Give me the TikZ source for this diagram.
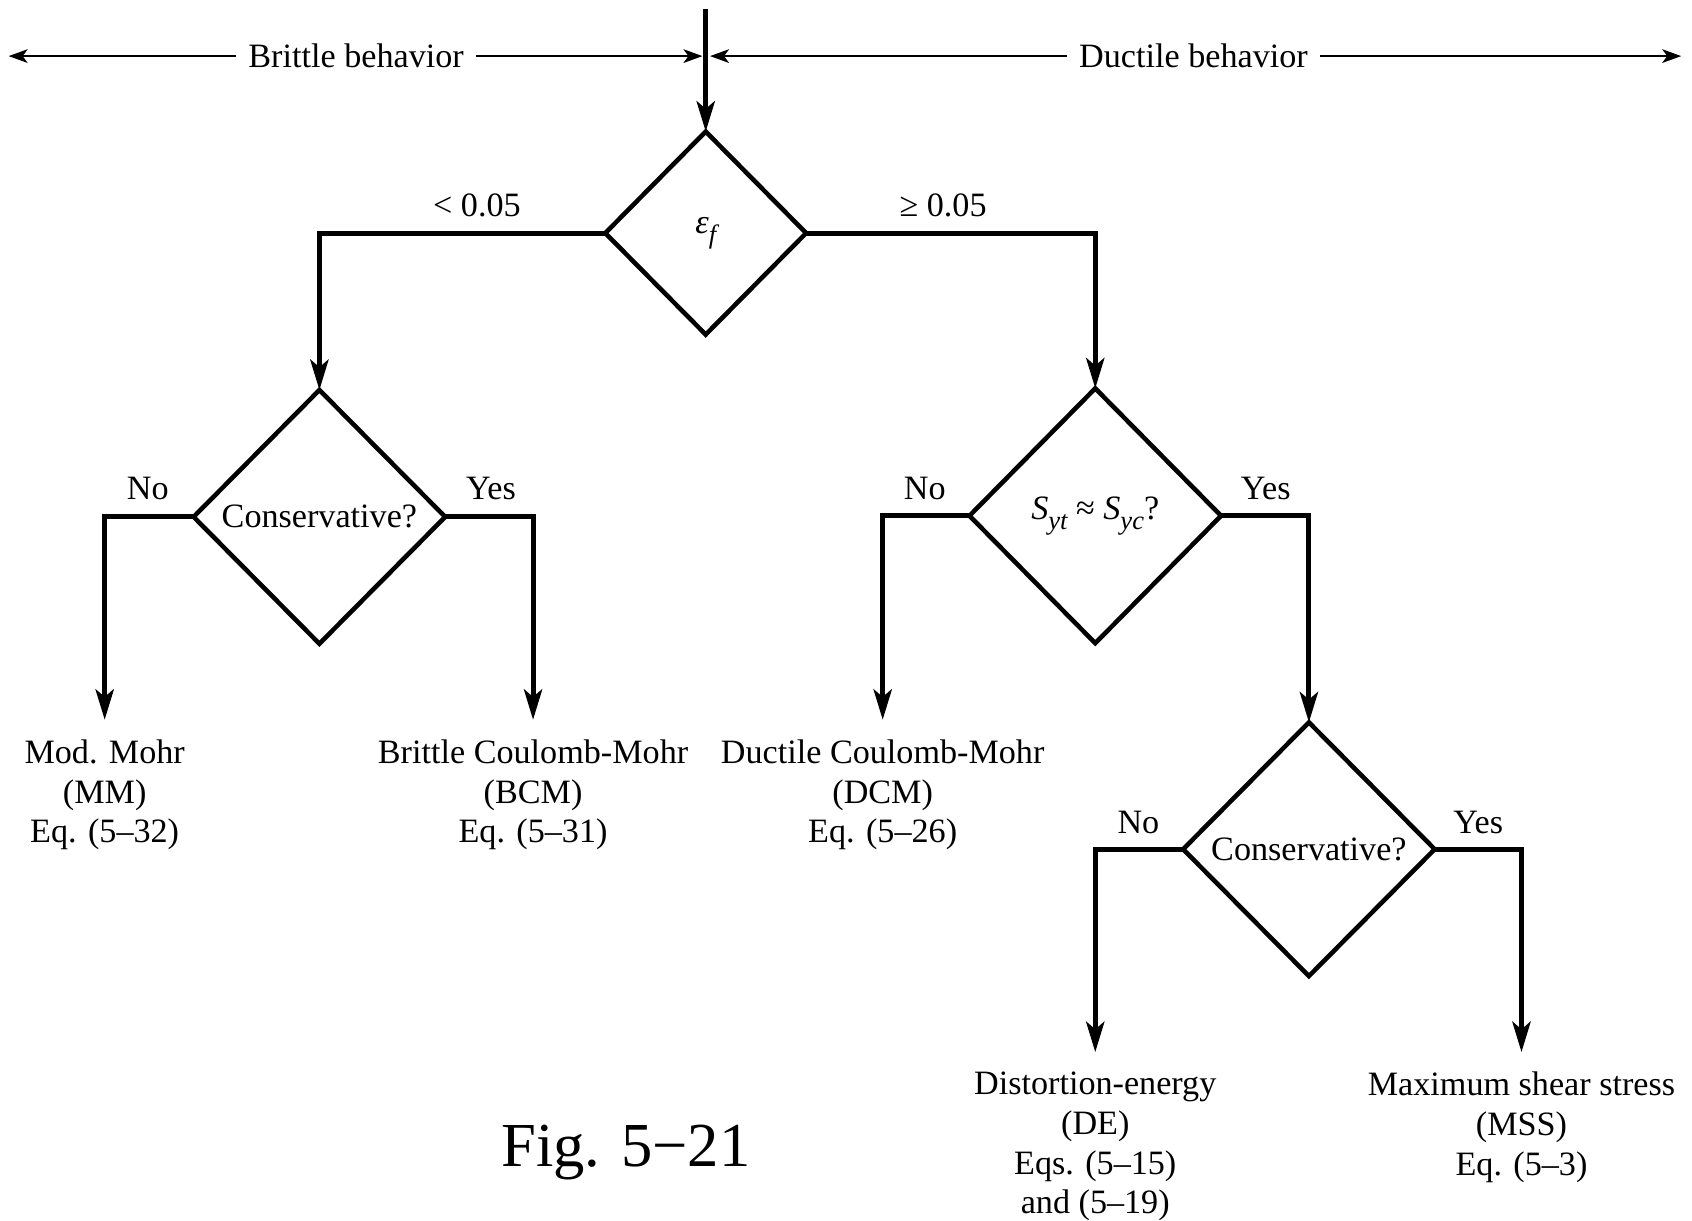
\documentclass[tikz,border=0pt]{standalone}
\usepackage{fontspec}
\setmainfont{Liberation Serif}
\usetikzlibrary{shapes.geometric,arrows.meta}

% italic subscript for the strain and strength symbols
\newcommand\itsub[1]{\raisebox{-2.6pt}{\fontsize{7}{7}\selectfont\itshape #1}}

\begin{document}
\begin{tikzpicture}[x=0.01cm,y=-0.01cm,
  every node/.style={font=\fontsize{9}{10.5}\selectfont, text=black},
  decision/.style={draw, diamond, line width=1.2pt, inner sep=0pt, outer sep=0pt},
  flow/.style={line width=1.3pt, -{Stealth[length=8pt,width=4.8pt,inset=2pt]}},
  thinarrow/.style={line width=0.5pt, -{Stealth[length=5pt,width=3.6pt,inset=1.3pt]}},
  leaf/.style={align=center, anchor=north, inner xsep=0pt, inner ysep=5pt},
  spanlabel/.style={inner xsep=3pt, inner ysep=0pt},
  branch/.style={inner sep=0pt}
]
\path[use as bounding box] (0,0) rectangle (1568,1131);

% header: brittle / ductile ranges
\coordinate (entry) at (654,8);
\coordinate (hleft) at (8,52);
\coordinate (hmidl) at (651,52);
\coordinate (hmidr) at (658,52);
\coordinate (hright) at (1558,52);
\node[spanlabel] (brittle) at (330,52) {Brittle behavior};
\node[spanlabel] (ductile) at (1106,52) {Ductile behavior};
\draw[thinarrow] (brittle.west) -- (hleft);
\draw[thinarrow] (brittle.east) -- (hmidl);
\draw[thinarrow] (ductile.west) -- (hmidr);
\draw[thinarrow] (ductile.east) -- (hright);

% decision diamonds
\node[decision, minimum width=1.86cm, minimum height=1.88cm] (eps) at (654,216)
  {\itshape ε\itsub{f}};
\node[decision, minimum width=2.33cm, minimum height=2.35cm] (consB) at (296,479)
  {Conservative?};
\node[decision, minimum width=2.33cm, minimum height=2.36cm] (syield) at (1015,478)
  {\itshape S\itsub{yt}\upshape\ ≈ \itshape S\itsub{yc}\upshape ?};
\node[decision, minimum width=2.33cm, minimum height=2.35cm] (consD) at (1213,787)
  {Conservative?};

% end results
\node[leaf] (mm)  at (97,667)   {Mod. Mohr\\(MM)\\Eq. (5–32)};
\node[leaf] (bcm) at (494,667)  {Brittle Coulomb-Mohr\\(BCM)\\Eq. (5–31)};
\node[leaf] (dcm) at (818,667)  {Ductile Coulomb-Mohr\\(DCM)\\Eq. (5–26)};
\node[leaf] (de)  at (1015,975) {Distortion-energy\\(DE)\\Eqs. (5–15)\\and (5–19)};
\node[leaf] (mss) at (1410,975) {Maximum shear stress\\(MSS)\\Eq. (5–3)};

% connectors
\draw[flow] (entry) -- (eps.north);
\draw[flow] (eps.west) -| (consB.north);
\draw[flow] (eps.east) -| (syield.north);
\draw[flow] (consB.west) -| (mm.north);
\draw[flow] (consB.east) -| (bcm.north);
\draw[flow] (syield.west) -| (dcm.north);
\draw[flow] (syield.east) -| (consD.north);
\draw[flow] (consD.west) -| (de.north);
\draw[flow] (consD.east) -| (mss.north);

% branch labels
\node[branch] (lt) at (442,190) {< 0.05};
\node[branch] (ge) at (874,190) {≥ 0.05};
\node[branch] (noB)  at (137,453)  {No};
\node[branch] (yesB) at (455,453)  {Yes};
\node[branch] (noS)  at (857,453)  {No};
\node[branch] (yesS) at (1173,453) {Yes};
\node[branch] (noD)  at (1055,762) {No};
\node[branch] (yesD) at (1370,762) {Yes};

% figure caption
\node[branch, font=\fontsize{16.5}{20}\selectfont] (caption) at (580,1068) {Fig. 5−21};
\end{tikzpicture}
\end{document}
